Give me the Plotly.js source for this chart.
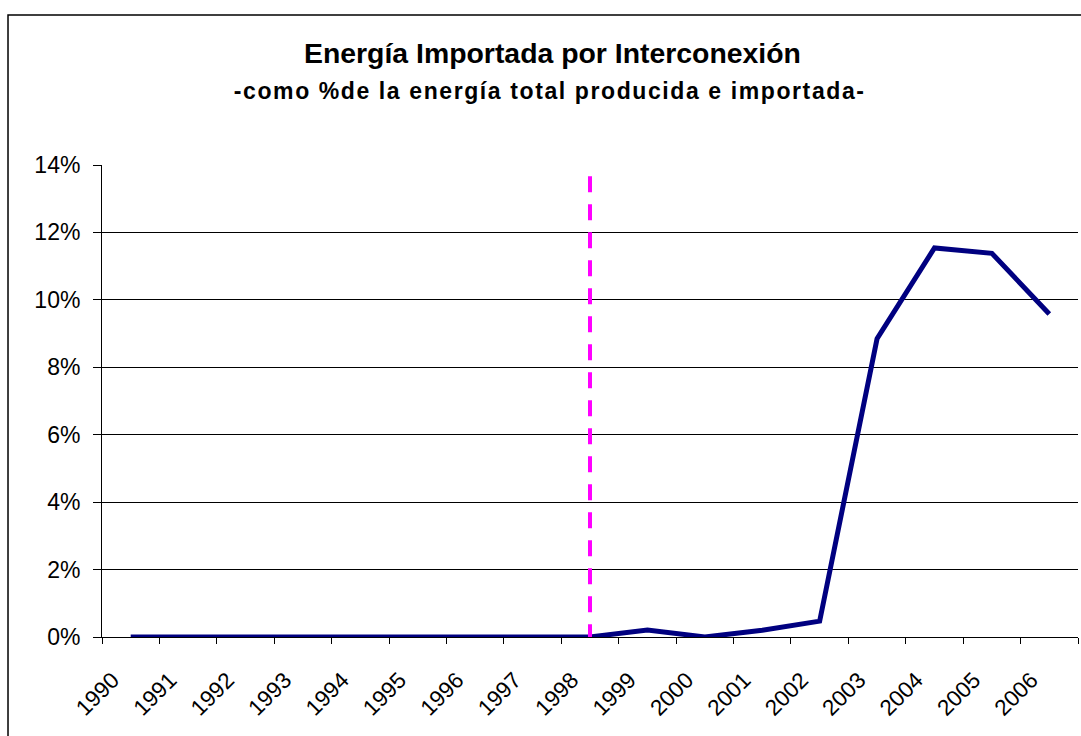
<!DOCTYPE html>
<html>
<head>
<meta charset="utf-8">
<script src="https://cdn.plot.ly/plotly-3.0.1.min.js"></script>
<style>
html,body{margin:0;padding:0;background:#fff;}
#chart{width:1081px;height:736px;}
</style>
</head>
<body>
<div id="chart"></div>
<script>
const years = ['1990','1991','1992','1993','1994','1995','1996','1997','1998','1999','2000','2001','2002','2003','2004','2005','2006'];
const importPct = [0,0,0,0,0,0,0,0,0,0.21,0,0.2,0.47,8.85,11.54,11.38,9.58];
const markerYears = ['1998','1998'];
const markerPct = [13.67,0];
const yTicks = [0,2,4,6,8,10,12,14];

const font = 'Liberation Sans, Arial, sans-serif';

const traces = [
  {x: years, y: importPct, type:'scatter', mode:'lines',
   line:{color:'#000080', width:5}, showlegend:false},
  {x: markerYears, y: markerPct, type:'scatter', mode:'lines',
   line:{color:'#FF00FF', width:4, dash:'16px,12px'}, hoverinfo:'skip', showlegend:false}
];

const layout = {
  width:1081, height:736,
  margin:{l:102, r:3, t:165, b:99},
  paper_bgcolor:'#fff', plot_bgcolor:'#fff',
  font:{family:font, color:'#000'},
  xaxis:{type:'category', categoryorder:'array', categoryarray:years, tickson:'boundaries', ticks:'outside', ticklen:6, tickcolor:'#000',
    tickangle:-45, tickfont:{size:22.5, family:font}, showgrid:false, showline:true, linecolor:'#000', linewidth:1,
    zeroline:false, range:[-0.5,16.5], fixedrange:true, ticklabelstandoff:20, ticklabelshift:-18},
  yaxis:{range:[0,14], tickvals:yTicks, ticktext:yTicks.map(v=>v+'%'), ticks:'outside', ticklen:8, tickcolor:'#000',
    tickfont:{size:23, family:font}, showgrid:true, gridcolor:'#000', gridwidth:1, showline:true, linecolor:'#000',
    linewidth:1, zeroline:false, ticklabelstandoff:8, fixedrange:true},
  annotations:[
    {text:'<b>Energía Importada por Interconexión</b>', xref:'paper', yref:'paper', x:0.4615, y:1.238, xanchor:'center', yanchor:'middle',
     showarrow:false, font:{size:28.4, family:font, color:'#000'}},
    {text:'<b>-como %de la energía total producida e importada-</b>', xref:'paper', yref:'paper', x:0.4585, y:1.157, xanchor:'center', yanchor:'middle',
     showarrow:false, font:{size:23, family:font, color:'#000'}}
  ],
  shapes:[
    {type:'rect', xref:'paper', yref:'paper', x0:-0.0963, x1:1.02, y0:-0.3, y1:1.3178, line:{color:'#000', width:1.5}, fillcolor:'rgba(0,0,0,0)', layer:'below'}
  ]
};

Plotly.newPlot('chart', traces, layout, {displayModeBar:false, staticPlot:true}).then(gd=>{
  const anns = gd.querySelectorAll('.annotation');
  if (anns[1]) {
    const t = anns[1].querySelector('text');
    if (t) {
      t.style.letterSpacing = '1.6px';
      t.setAttribute('text-anchor','middle');
    }
  }
});
</script>
</body>
</html>
